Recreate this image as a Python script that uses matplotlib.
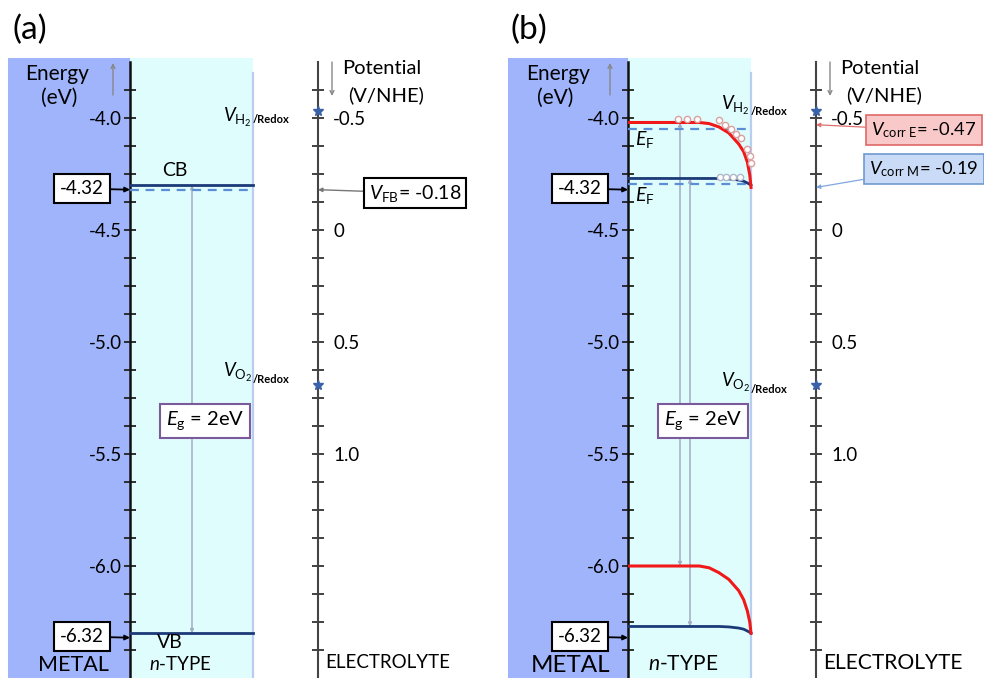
import matplotlib
matplotlib.use('Agg')
import matplotlib.pyplot as plt
from matplotlib.patches import Rectangle
from matplotlib.ticker import FixedLocator, FuncFormatter
import numpy as np

plt.rcParams['font.family'] = ['Lato', 'DejaVu Sans']
plt.rcParams['mathtext.fontset'] = 'custom'
plt.rcParams['mathtext.rm'] = 'Lato'
plt.rcParams['mathtext.it'] = 'Lato:italic'
plt.rcParams['mathtext.bf'] = 'Lato:bold'

# ---------------- data ----------------
energy_labels = [-4.0, -4.5, -5.0, -5.5, -6.0]
potential_labels = [-0.5, 0.0, 0.5, 1.0]
nhe_offset = -4.5          # E(eV) = -4.5 - V(V/NHE)

# panel (a): flat bands
cb_a = -4.30
ef_a = -4.32
vb_a = -6.30
marked_levels = [-4.32, -6.32]
v_fb = -0.18
v_h2_redox = -0.53
v_o2_redox = 0.69
band_gap = 2

# panel (b): bent bands (fraction across n-type layer -> energy)
band_x = [0.0, 0.58, 0.66, 0.74, 0.82, 0.90, 0.94, 0.97, 0.99, 1.0]
cb_e_red = [-4.02, -4.02, -4.025, -4.04, -4.067, -4.116, -4.15, -4.196, -4.254, -4.31]
vb_e_red = [-6.00, -6.00, -6.008, -6.03, -6.06, -6.11, -6.15, -6.20, -6.25, -6.30]
cb_m_navy = [-4.27, -4.27, -4.27, -4.27, -4.272, -4.277, -4.282, -4.29, -4.296, -4.30]
vb_m_navy = [-6.27, -6.27, -6.27, -6.27, -6.272, -6.277, -6.282, -6.29, -6.296, -6.30]
ef_b_upper = -4.05
ef_b_lower = -4.295
electron_x = [0.41, 0.48, 0.56, 0.74, 0.79, 0.84, 0.88, 0.92, 0.97, 0.99, 1.0]
electron_e = [-4.005, -4.005, -4.005, -4.01, -4.03, -4.05, -4.07, -4.09, -4.14, -4.17, -4.20]
electron_m_x = [0.75, 0.80, 0.85, 0.91]
electron_m_e = [-4.265, -4.265, -4.265, -4.265]
v_corr_e = -0.47
v_corr_m = -0.19

# ---------------- styles ----------------
C_METAL = '#9fb4fb'
C_NTYPE = '#e0fdfd'
C_NBORDER = '#b8cdf0'
C_NAVY = '#1c3a78'
C_DASH = '#5b8ed6'
C_RED = '#f01818'
C_GRAYLINE = '#a3abc4'
C_STAR = '#3a62a8'

W, H = 984, 678
fig = plt.figure(figsize=(W / 100, H / 100), dpi=100)

E_BOT, E_TOP = -6.5, -3.75   # energy at y=678 px and y=62 px
PX_PER_EV = 224.0


def e_of_px(y):
    return -4.0 - (y - 118) / PX_PER_EV


def setup_panel(dx):
    ax = fig.add_axes([(130 + dx) / W, 0, 188 / W, (H - 62) / H])
    ax.set_xlim(0, 188)
    ax.set_ylim(E_BOT, E_TOP)
    ax.patch.set_visible(False)
    for s in ['top', 'bottom', 'right']:
        ax.spines[s].set_visible(False)
    ax.spines['left'].set_linewidth(1.8)
    ax.spines['left'].set_color('#111111')
    ax.set_xticks([])
    ax.yaxis.set_major_locator(FixedLocator(np.arange(-6.375, -3.8, 0.125)))
    ax.yaxis.set_major_formatter(FuncFormatter(
        lambda v, p: f"{v:.1f}" if any(abs(v - t) < 1e-6 for t in energy_labels) else ""))
    ax.tick_params(axis='y', direction='inout', length=8, width=1.3,
                   labelsize=13.5, pad=2, color='#222222')

    ax2 = ax.twinx()
    ax2.set_ylim(nhe_offset - E_BOT, nhe_offset - E_TOP)
    ax2.patch.set_visible(False)
    for s in ['top', 'bottom', 'left']:
        ax2.spines[s].set_visible(False)
    ax2.spines['right'].set_linewidth(1.5)
    ax2.spines['right'].set_color('#444444')
    ax2.yaxis.set_major_locator(FixedLocator(np.arange(-0.625, 1.9, 0.125)))

    def pfmt(v, p):
        if any(abs(v - t) < 1e-6 for t in potential_labels):
            return "0" if abs(v) < 1e-6 else f"{v:.1f}"
        return ""
    ax2.yaxis.set_major_formatter(FuncFormatter(pfmt))
    ax2.tick_params(axis='y', direction='inout', length=8, width=1.3,
                    labelsize=13.5, pad=7, color='#333333')

    # regions
    ax.add_patch(Rectangle((-122 if dx == 0 else -120, E_BOT), 122 if dx == 0 else 120,
                           e_of_px(58) - E_BOT, color=C_METAL, lw=0, zorder=0, clip_on=False))
    ax.add_patch(Rectangle((0, E_BOT), 123, e_of_px(58) - E_BOT,
                           color=C_NTYPE, lw=0, zorder=0, clip_on=False))
    ax.plot([123, 123], [E_BOT, e_of_px(73)], color=C_NBORDER, lw=1.6, zorder=1, clip_on=False)

    # marked level boxes
    for lvl in marked_levels:
        ax.annotate(f"{lvl:.2f}", xy=(0, lvl), xytext=(-48, lvl + 0.005),
                    ha='center', va='center', fontsize=13.5,
                    bbox=dict(boxstyle='square,pad=0.32', fc='white', ec='black', lw=1.5),
                    arrowprops=dict(arrowstyle='-|>', color='black', lw=1.3,
                                    mutation_scale=7, shrinkA=0, shrinkB=0),
                    annotation_clip=False, zorder=5)

    # redox stars
    for v in (v_h2_redox, v_o2_redox):
        ax2.plot(188, v, marker='*', ms=7, color=C_STAR, clip_on=False, zorder=5)
    return ax, ax2


# ---------- panel (a) ----------
ax, ax2 = setup_panel(0)
ax.plot([0, 123], [cb_a, cb_a], color=C_NAVY, lw=2, zorder=3)
ax.plot([0, 123], [ef_a, ef_a], color=C_DASH, lw=1.6, ls=(0, (4, 3)), zorder=3)
ax.plot([0, 123], [vb_a, vb_a], color=C_NAVY, lw=2, zorder=3)
ax.annotate('', xy=(62, vb_a), xytext=(62, cb_a),
            arrowprops=dict(arrowstyle='<|-|>', color=C_GRAYLINE, lw=1.1,
                            mutation_scale=5, shrinkA=0, shrinkB=0), zorder=2)
ax2.annotate(r"$V_{\mathrm{FB}}$= " + f"{v_fb:.2f}", xy=(188, v_fb), xytext=(285, v_fb + 0.015),
             ha='center', va='center', fontsize=14,
             bbox=dict(boxstyle='square,pad=0.25', fc='white', ec='black', lw=1.5),
             arrowprops=dict(arrowstyle='-|>', color='#777777', lw=1.0,
                             mutation_scale=6, shrinkA=0, shrinkB=0),
             annotation_clip=False)

# ---------- panel (b) ----------
DXB = 498
bx, bx2 = setup_panel(DXB)
xs = [f * 123 for f in band_x]
bx.plot([0, 123], [ef_b_upper, ef_b_upper], color=C_DASH, lw=1.6, ls=(0, (4, 3)), zorder=3)
bx.plot([0, 123], [ef_b_lower, ef_b_lower], color=C_DASH, lw=1.6, ls=(0, (4, 3)), zorder=3)
bx.plot(xs, cb_m_navy, color=C_NAVY, lw=2, zorder=3)
bx.plot(xs, vb_m_navy, color=C_NAVY, lw=2, zorder=3)
bx.plot(xs, cb_e_red, color=C_RED, lw=2.2, zorder=4)
bx.plot(xs, vb_e_red, color=C_RED, lw=2.2, zorder=4)
bx.plot([f * 123 for f in electron_x], electron_e, ls='none', marker='o', ms=4.5,
        mfc='white', mec='#d9a0a0', mew=1.0, zorder=5)
bx.plot([f * 123 for f in electron_m_x], electron_m_e, ls='none', marker='o', ms=4.5,
        mfc='white', mec='#b0b8c8', mew=1.0, zorder=5)
bx.annotate('', xy=(52, vb_e_red[0]), xytext=(52, cb_e_red[0]),
            arrowprops=dict(arrowstyle='<|-|>', color=C_GRAYLINE, lw=1.1,
                            mutation_scale=5, shrinkA=0, shrinkB=0), zorder=2)
bx.annotate('', xy=(62, vb_m_navy[0]), xytext=(62, cb_m_navy[0]),
            arrowprops=dict(arrowstyle='<|-|>', color=C_GRAYLINE, lw=1.1,
                            mutation_scale=5, shrinkA=0, shrinkB=0), zorder=2)
bx2.annotate(r"$V_{\mathrm{corr\ E}}$= " + f"{v_corr_e:.2f}", xy=(188, v_corr_e),
             xytext=(296, v_corr_e + 0.024), ha='center', va='center', fontsize=13.2,
             bbox=dict(boxstyle='square,pad=0.3', fc='#f9c8c8', ec='#e06868', lw=1.2),
             arrowprops=dict(arrowstyle='-|>', color='#e07070', lw=0.9,
                             mutation_scale=6, shrinkA=0, shrinkB=0),
             annotation_clip=False)
bx2.annotate(r"$V_{\mathrm{corr\ M}}$= " + f"{v_corr_m:.2f}", xy=(188, v_corr_m),
             xytext=(296, v_corr_m - 0.082), ha='center', va='center', fontsize=13.2,
             bbox=dict(boxstyle='square,pad=0.3', fc='#c9dbf6', ec='#6f9ad0', lw=1.2),
             arrowprops=dict(arrowstyle='-|>', color='#80a8e0', lw=0.9,
                             mutation_scale=6, shrinkA=0, shrinkB=0),
             annotation_clip=False)

# ---------- overlay text (pixel coordinates) ----------
ov = fig.add_axes([0, 0, 1, 1], zorder=10)
ov.set_xlim(0, W)
ov.set_ylim(H, 0)
ov.axis('off')
ov.patch.set_visible(False)


def arrow(x, y0, y1):
    ov.annotate('', xy=(x, y1), xytext=(x, y0),
                arrowprops=dict(arrowstyle='->', color='#888888', lw=1.0,
                                mutation_scale=7, shrinkA=0, shrinkB=0))


for dx, lab, sc in ((0, '(a)', 1.0), (DXB, '(b)', 1.12)):
    ov.text(12 + dx, 30, lab, fontsize=24, ha='left', va='center')
    ov.text(57 + dx + (3 if dx else 0), 74, 'Energy', fontsize=15, ha='center', va='center')
    ov.text(59 + dx - (2 if dx else 0), 98, '(eV)', fontsize=15, ha='center', va='center')
    arrow(113 + dx - (1 if dx else 0), 95, 63)
    px = 318 + dx
    ov.text(px + 24, 68, 'Potential', fontsize=14.5, ha='left', va='center')
    ov.text(px + 30, 95, '(V/NHE)', fontsize=14.5, ha='left', va='center')
    arrow(px + 14, 62, 96)
    ov.text(px + 7, 663, 'ELECTROLYTE', fontsize=13.5 * sc, ha='left', va='center')
    ov.text(73 + dx, 665, 'METAL', fontsize=15.5 * sc, ha='center', va='center')
    ov.text(180 + dx + (5 if dx else 0), 664, r'$n$-TYPE', fontsize=13.5 * sc, ha='center', va='center')
    ov.text(205 + dx, 421, r'$E_{\mathrm{g}}$ = ' + f'{band_gap}eV', fontsize=14.5,
            ha='center', va='center',
            bbox=dict(boxstyle='square,pad=0.3', fc='white', ec='#7a5a9a', lw=1.5))
    yo = -12 if dx else 0
    ov.text(252 + dx, 122 + yo, r'$V_{\mathrm{H}_2}$', fontsize=13.5, ha='right', va='baseline')
    ov.text(253 + dx, 123 + yo + (4 if dx else 0), '/Redox', fontsize=8, fontweight='bold',
            ha='left', va='baseline')
    yo2 = 10 if dx else 0
    ov.text(252 + dx, 377 + yo2, r'$V_{\mathrm{O}_2}$', fontsize=13.5, ha='right', va='baseline')
    ov.text(253 + dx, 383 + yo2, '/Redox', fontsize=8, fontweight='bold',
            ha='left', va='baseline')

ov.text(175, 171, 'CB', fontsize=14, ha='center', va='center')
ov.text(170, 642, 'VB', fontsize=14, ha='center', va='center')
ov.text(DXB + 137, 140, r'$E_{\mathrm{F}}$', fontsize=14, ha='left', va='center')
ov.text(DXB + 137, 196, r'$E_{\mathrm{F}}$', fontsize=14, ha='left', va='center')

fig.savefig('out.png', dpi=100)
